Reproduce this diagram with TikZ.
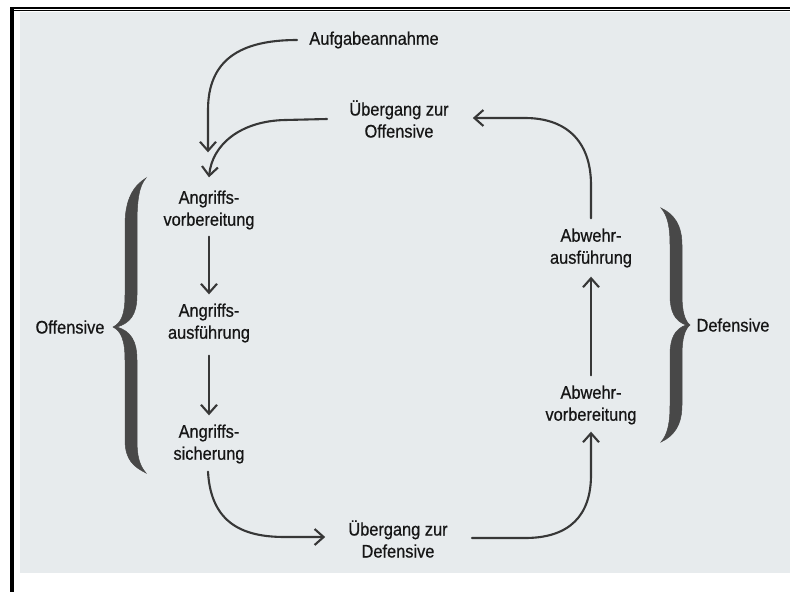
\documentclass[tikz,border=0pt]{standalone}
\usepackage{fontspec}
\setmainfont{Liberation Sans}[FakeStretch=0.9,FakeBold=0.6]
\usetikzlibrary{arrows.meta}

\definecolor{paper}{RGB}{231,235,237}
\definecolor{ink}{RGB}{22,22,22}
\definecolor{linec}{RGB}{55,55,55}
\definecolor{bracec}{RGB}{72,72,72}

\begin{document}
\begin{tikzpicture}[x=1pt,y=-1pt,
  lab/.style={align=center, inner sep=0pt, text=ink,
              font=\fontsize{18.2}{22}\selectfont},
  arr/.style={draw=linec, line width=2.1pt, line cap=round,
              -{Straight Barb[length=9pt,width=16pt]}},
  bracefill/.style={fill=bracec, draw=bracec, line width=0.5pt}]

\useasboundingbox (0,0) rectangle (790,592);
\fill[white] (0,0) rectangle (790,592);

% scanned page area and frame
\fill[paper] (20,12) rectangle (790,573);
\draw[black, line width=4pt] (12,7) -- (12,592);
\draw[black, line width=2.6pt] (10,7.8) -- (790,7.8);
\draw[black, line width=1.1pt] (14,10.8) -- (790,10.8);

% phases
\node[lab] (aufg)  at (374,40)  {Aufgabeannahme};
\node[lab] (uoff)  at (399,119) {Übergang zur\\Offensive};
\node[lab] (avorb) at (209,210) {Angriffs-\\vorbereitung};
\node[lab] (aaus)  at (209,323) {Angriffs-\\ausführung};
\node[lab] (asich) at (209,444) {Angriffs-\\sicherung};
\node[lab] (udef)  at (398,539) {Übergang zur\\Defensive};
\node[lab] (baus)  at (591,248) {Abwehr-\\ausführung};
\node[lab] (bvorb) at (591,405) {Abwehr-\\vorbereitung};
\node[lab] (offl)  at (70,327)  {Offensive};
\node[lab] (defl)  at (733,325) {Defensive};

% cycle arrows
\draw[arr] ([xshift=-12pt]aufg.west) .. controls (240,40) and (208,60) .. (208,110)
           -- ([xshift=-1pt,yshift=38pt]avorb.north);
\draw[arr] ([xshift=-22pt]uoff.west) -- (285,120) .. controls (240,121) and (212,145)
           .. ([yshift=13pt]avorb.north);
\draw[arr] ([yshift=-7pt]avorb.south) -- ([yshift=9pt]aaus.north);
\draw[arr] ([yshift=-13pt]aaus.south) -- ([yshift=9pt]asich.north);
\draw[arr] ([xshift=-1pt,yshift=-8pt]asich.south) .. controls (211,525) and (245,537)
           .. (285,537) -- ([xshift=-23pt,yshift=2pt]udef.west);
\draw[arr] ([xshift=24pt,yshift=1pt]udef.east) -- (525,538) .. controls (570,538) and (591,515)
           .. (591,475) -- ([yshift=-7pt]bvorb.south);
\draw[arr] ([yshift=10pt]bvorb.north) -- ([yshift=-9pt]baus.south);
\draw[arr] ([yshift=10pt]baus.north) -- (591,185) .. controls (591,140) and (565,118)
           .. (525,118) -- ([xshift=24pt,yshift=1pt]uoff.east);

% brace grouping the offensive phases
\fill[bracefill] (146,178) .. controls (133,186) and (125,200) .. (125,225) -- (125,295)
  .. controls (125,315) and (121,323) .. (113,327)
  .. controls (121,331) and (125,340) .. (125,360) -- (125,440)
  .. controls (125,460) and (134,467) .. (146,473)
  .. controls (139,465) and (137,455) .. (137,440) -- (137,360)
  .. controls (137,340) and (130,331) .. (117,327)
  .. controls (130,323) and (137,315) .. (137,295) -- (137,225)
  .. controls (137,200) and (139,186) .. (146,178) -- cycle;

% brace grouping the defensive phases
\fill[bracefill] (661,208) .. controls (674,214) and (682,225) .. (682,245) -- (682,295)
  .. controls (682,312) and (685,321) .. (690,325)
  .. controls (685,329) and (682,338) .. (682,355) -- (682,405)
  .. controls (682,425) and (674,436) .. (661,442)
  .. controls (668,434) and (670,422) .. (670,405) -- (670,355)
  .. controls (670,338) and (675,329) .. (686,325)
  .. controls (675,321) and (670,312) .. (670,295) -- (670,245)
  .. controls (670,228) and (668,216) .. (661,208) -- cycle;

\end{tikzpicture}
\end{document}
